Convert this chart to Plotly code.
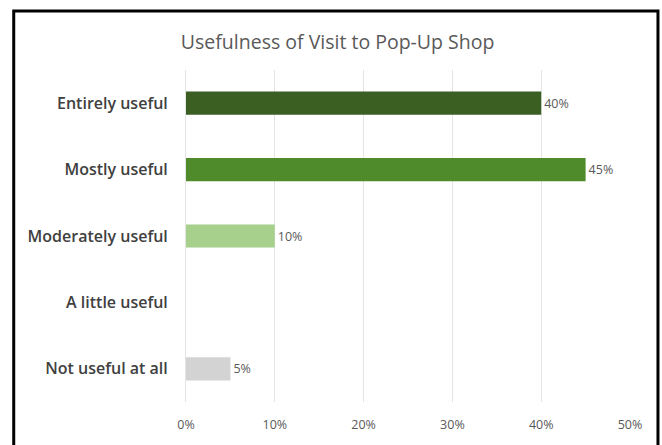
import plotly.graph_objects as go

categories = ["Entirely useful", "Mostly useful", "Moderately useful", "A little useful", "Not useful at all"]
shares = [40, 45, 10, 0, 5]
bar_colors = ["#3b5e22", "#4f8a2b", "#a6d08c", "#c7c7c7", "#d3d3d3"]
tick_vals = [0, 10, 20, 30, 40, 50]
tick_text = ["0%", "10%", "20%", "30%", "40%", "50%"]

labels = [f"{v}%" if v > 0 else "" for v in shares]

fig = go.Figure(go.Bar(
    x=shares,
    y=categories,
    orientation="h",
    marker=dict(color=bar_colors, line=dict(width=0)),
    text=labels,
    textposition="outside",
    textfont=dict(family="Open Sans", size=12.5, color="#595959"),
    cliponaxis=False,
))

fig.update_layout(
    width=662, height=445,
    margin=dict(l=186, r=32, t=70, b=41),
    paper_bgcolor="white", plot_bgcolor="white",
    bargap=0.65,
    showlegend=False,
    title=dict(
        text="Usefulness of Visit to Pop-Up Shop",
        x=0.51, xanchor="center", y=0.905, yanchor="middle",
        font=dict(family="Open Sans", size=19.5, color="#595959"),
    ),
    xaxis=dict(
        range=[0, 50], tickvals=tick_vals, ticktext=tick_text,
        showgrid=True, gridcolor="#e4e4e4", gridwidth=1,
        zeroline=False, showline=False,
        tickfont=dict(family="Open Sans", size=12.5, color="#595959"),
        ticklabelstandoff=13,
    ),
    yaxis=dict(
        categoryorder="array", categoryarray=categories[::-1],
        showgrid=False, zeroline=False,
        showline=True, linecolor="#e4e4e4", linewidth=1,
        tickfont=dict(family="Open Sans", size=16, color="#404040", weight=600),
        ticklabelstandoff=14,
    ),
    shapes=[dict(
        type="rect", xref="paper", yref="paper",
        x0=-0.388, x1=1.063, y0=-0.15, y1=1.178,
        line=dict(color="black", width=3), layer="above",
    )],
)

fig.write_html("out.html")
